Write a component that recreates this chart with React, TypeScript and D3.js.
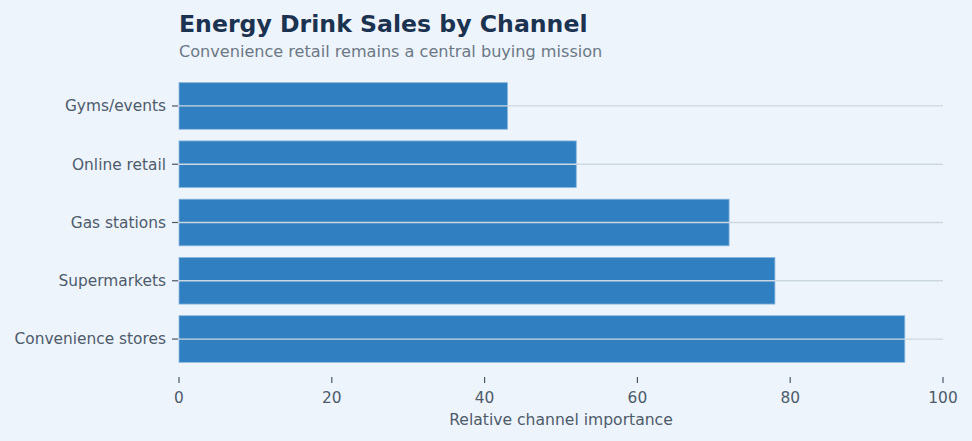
import * as d3 from 'd3';

const channels = ['Gyms/events', 'Online retail', 'Gas stations', 'Supermarkets', 'Convenience stores'];
const importance = [43, 52, 72, 78, 95];
const xTicks = [0, 20, 40, 60, 80, 100];

const width = 972;
const height = 441;
const margins = { top: 71, right: 29, bottom: 67, left: 179 };

const App = () => {
  const xScale = d3
    .scaleLinear()
    .domain([0, 100])
    .range([margins.left, width - margins.right]);
  const yScale = d3
    .scaleBand<string>()
    .domain(channels)
    .range([margins.top, height - margins.bottom])
    .padding(0.2);

  const axisY = height - margins.bottom + 3;
  const font = 'DejaVu Sans, sans-serif';

  return (
    <svg
      width={width}
      height={height}
      viewBox={`0 0 ${width} ${height}`}
      style={{ position: 'absolute', left: 0, top: 0, background: '#eef4fb' }}
    >
      <rect x={0} y={0} width={width} height={height} fill="#eef4fb" />
      <text x={margins.left} y={32} fontFamily={font} fontSize={23.6} fontWeight="bold" fill="#1b3350">
        Energy Drink Sales by Channel
      </text>
      <text x={margins.left} y={57} fontFamily={font} fontSize={16.1} fill="#6b7886">
        Convenience retail remains a central buying mission
      </text>

      {channels.map((c, i) => (
        <rect
          key={c}
          x={xScale(0)}
          y={yScale(c)}
          width={xScale(importance[i]) - xScale(0)}
          height={yScale.bandwidth()}
          fill="#2f7fc1"
          stroke="#8bb7de"
          strokeWidth={0.8}
        />
      ))}

      {channels.map(c => {
        const cy = (yScale(c) || 0) + yScale.bandwidth() / 2;
        return (
          <g key={c}>
            <line x1={xScale(0)} x2={xScale(100)} y1={cy} y2={cy} stroke="#cdd7e2" strokeWidth={1.3} />
            <line x1={xScale(0) - 7} x2={xScale(0) - 1} y1={cy} y2={cy} stroke="#4a5868" strokeWidth={1.2} />
            <text
              x={xScale(0) - 13}
              y={cy}
              dy="0.35em"
              textAnchor="end"
              fontFamily={font}
              fontSize={15.4}
              fill="#4d5b6b"
            >
              {c}
            </text>
          </g>
        );
      })}

      {xTicks.map(t => (
        <g key={t}>
          <line x1={xScale(t)} x2={xScale(t)} y1={axisY} y2={axisY + 6} stroke="#4a5868" strokeWidth={1.2} />
          <text x={xScale(t)} y={axisY + 26} textAnchor="middle" fontFamily={font} fontSize={15.4} fill="#4d5b6b">
            {t}
          </text>
        </g>
      ))}

      <text
        x={(xScale(0) + xScale(100)) / 2}
        y={425}
        textAnchor="middle"
        fontFamily={font}
        fontSize={15.6}
        fill="#4d5b6b"
      >
        Relative channel importance
      </text>
    </svg>
  );
};

export default App;
